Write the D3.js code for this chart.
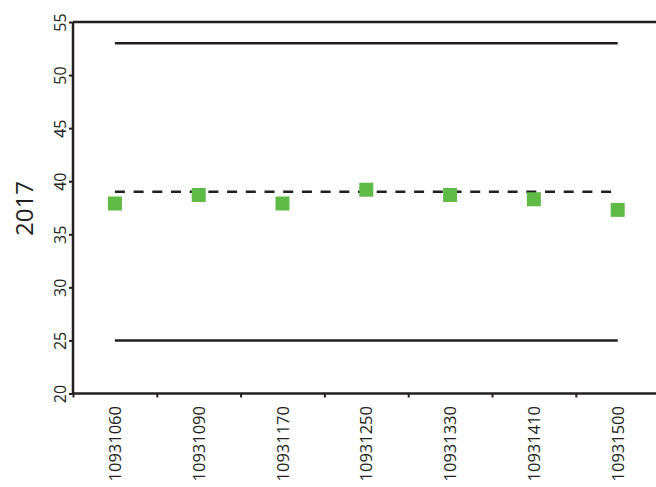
<!DOCTYPE html>
<html><head><meta charset="utf-8">
<script src="https://cdn.jsdelivr.net/npm/d3@7"></script>
<style>body{margin:0;background:#fff}svg{display:block}</style>
</head><body>
<svg id="c" width="656" height="487"></svg>
<script>
const categories = ["10931060","10931090","10931170","10931250","10931330","10931410","10931500"];
const values = [37.9, 38.7, 37.9, 39.2, 38.7, 38.3, 37.3];
const upperLimit = 53;
const centerLine = 39;
const lowerLimit = 25;
const yTicks = [20,25,30,35,40,45,50,55];
const yTitle = "2017";

(function(){
const svg = d3.select("#c");
const mLeft = 73, mTop = 22, mBottom = 393.5, bandW = 83.8;
const x = d3.scaleBand().domain(categories).range([mLeft, mLeft + bandW*categories.length]);
const y = d3.scaleLinear().domain([20,55]).range([mBottom, mTop]);
const ink = "#231f20";
const font = "'Open Sans', sans-serif";

// top border
svg.append("line").attr("x1", mLeft).attr("x2", 656).attr("y1", y(55)).attr("y2", y(55))
  .attr("stroke", ink).attr("stroke-width", 2.5);

// y axis
const yAxis = svg.append("g").attr("transform", `translate(${mLeft},0)`)
  .call(d3.axisLeft(y).tickValues(yTicks).tickSize(4).tickPadding(8));
yAxis.select(".domain").remove();
yAxis.selectAll(".tick line").attr("stroke", ink).attr("stroke-width", 2);
yAxis.selectAll(".tick text").attr("font-family", font).attr("font-size", 16).attr("fill", ink)
  .attr("x", null).attr("dy", null).attr("text-anchor", "middle")
  .attr("transform", "translate(-7.5,0) rotate(-90)");
svg.append("line").attr("x1", mLeft).attr("x2", mLeft).attr("y1", mTop).attr("y2", mBottom)
  .attr("stroke", ink).attr("stroke-width", 2.5);

// x axis: ticks at band boundaries
const bounds = categories.map(c => x(c));
const xb = svg.append("g").attr("transform", `translate(0,${mBottom})`)
  .call(d3.axisBottom(d3.scaleIdentity()).tickValues(bounds).tickSize(4).tickFormat(""));
xb.select(".domain").remove();
xb.selectAll(".tick line").attr("stroke", ink).attr("stroke-width", 2);
svg.append("line").attr("x1", mLeft).attr("x2", 656).attr("y1", mBottom).attr("y2", mBottom)
  .attr("stroke", ink).attr("stroke-width", 2.5);

const xl = svg.append("g").attr("transform", `translate(0,${mBottom})`)
  .call(d3.axisBottom(x).tickSize(0).tickPadding(0));
xl.select(".domain").remove();
xl.selectAll(".tick text").attr("font-family", font).attr("font-size", 16.5).attr("fill", ink)
  .attr("y", null).attr("dy", null).attr("text-anchor", "end")
  .attr("transform", "translate(6,12.5) rotate(-90)");

// y title
svg.append("text").attr("transform", `translate(32.5,208.5) rotate(-90)`)
  .attr("text-anchor","middle").attr("font-family", font).attr("font-size", 24)
  .attr("fill", ink).text(yTitle);

const x0 = x(categories[0]) + x.bandwidth()/2;
const x1 = x(categories[categories.length-1]) + x.bandwidth()/2;
[upperLimit, lowerLimit].forEach(v => {
  svg.append("line").attr("x1", x0).attr("x2", x1).attr("y1", y(v)).attr("y2", y(v))
    .attr("stroke", ink).attr("stroke-width", 2.5);
});
svg.append("line").attr("x1", x0).attr("x2", x1).attr("y1", y(centerLine)).attr("y2", y(centerLine))
  .attr("stroke", ink).attr("stroke-width", 2.5).attr("stroke-dasharray","10,8.7");

const s = 14;
svg.selectAll("rect.pt").data(values).enter().append("rect").attr("class","pt")
  .attr("x", (d,i) => x(categories[i]) + x.bandwidth()/2 - s/2)
  .attr("y", d => y(d) - s/2)
  .attr("width", s).attr("height", s).attr("fill", "#5fba46");
})();
</script>
</body></html>
